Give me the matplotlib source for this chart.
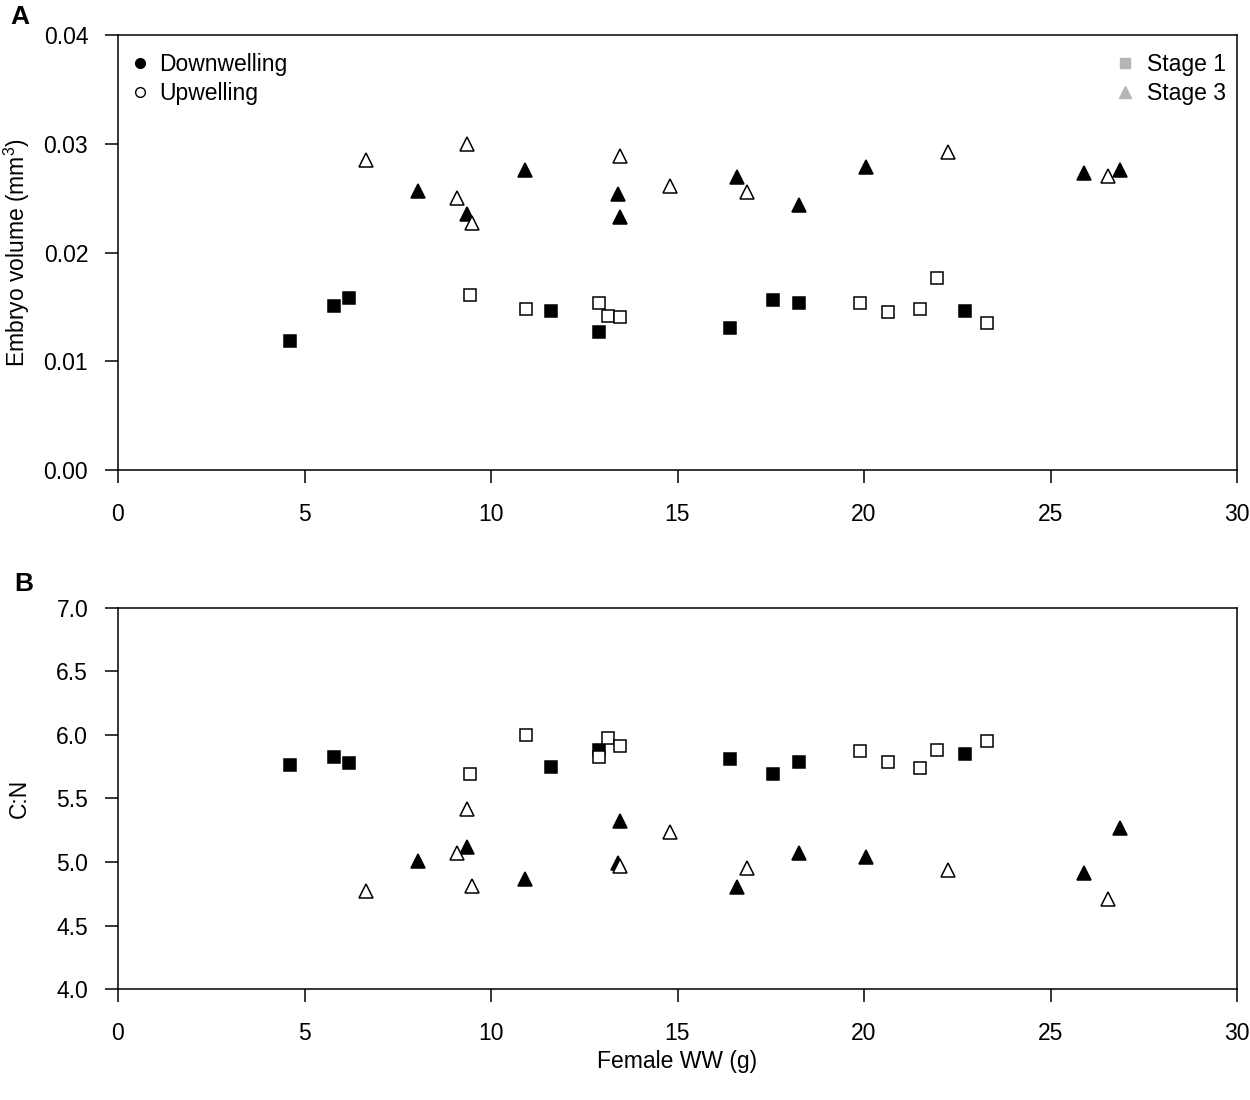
import matplotlib
matplotlib.use('Agg')
import matplotlib.pyplot as plt
from matplotlib.lines import Line2D

plt.rcParams['font.family'] = ['Liberation Sans', 'DejaVu Sans']
plt.rcParams['mathtext.fontset'] = 'custom'
plt.rcParams['mathtext.rm'] = 'Liberation Sans'

# Female wet weight (g), embryo volume (mm^3) and C:N per group.
# Downwelling = filled, Upwelling = open; Stage 1 = square, Stage 3 = triangle.
down_s1_ww = [4.6, 5.8, 6.2, 11.6, 12.9, 16.4, 17.55, 18.25, 22.7]
down_s1_vol = [0.0119, 0.0151, 0.0158, 0.0146, 0.0127, 0.0131, 0.0156, 0.0154, 0.0146]
down_s1_cn = [5.76, 5.83, 5.78, 5.75, 5.88, 5.81, 5.69, 5.79, 5.85]

up_s1_ww = [9.45, 10.95, 12.9, 13.15, 13.45, 19.9, 20.65, 21.5, 21.95, 23.3]
up_s1_vol = [0.0161, 0.0148, 0.0154, 0.0142, 0.0141, 0.0154, 0.0145, 0.0148, 0.0177, 0.0135]
up_s1_cn = [5.69, 6.00, 5.83, 5.98, 5.91, 5.87, 5.79, 5.74, 5.88, 5.95]

down_s3_ww = [8.05, 9.35, 10.9, 13.4, 13.45, 16.6, 18.25, 20.05, 25.9, 26.85]
down_s3_vol = [0.0257, 0.0235, 0.0276, 0.0254, 0.0233, 0.0269, 0.0244, 0.0279, 0.0273, 0.0276]
down_s3_cn = [5.01, 5.12, 4.87, 4.99, 5.32, 4.80, 5.07, 5.04, 4.91, 5.27]

up_s3_ww = [6.65, 9.1, 9.35, 9.5, 13.45, 14.8, 16.85, 22.25, 26.55]
up_s3_vol = [0.0285, 0.0250, 0.0300, 0.0227, 0.0289, 0.0261, 0.0256, 0.0292, 0.0270]
up_s3_cn = [4.77, 5.07, 5.42, 4.81, 4.97, 5.24, 4.95, 4.94, 4.71]

x_ticks = [0, 5, 10, 15, 20, 25, 30]
vol_ticks = [0.00, 0.01, 0.02, 0.03, 0.04]
cn_ticks = [4.0, 4.5, 5.0, 5.5, 6.0, 6.5, 7.0]

FS = 16.5
SQ = 8.5
TRI = 10.5
EW = 1.1

fig = plt.figure(figsize=(12.5, 11), dpi=100)
ax_a = fig.add_axes([0.0944, 0.5727, 0.8952, 0.3955])
ax_b = fig.add_axes([0.0944, 0.1009, 0.8952, 0.3464])


def draw_panel(ax, d1, u1, d3, u3):
    ax.plot(down_s1_ww, d1, 's', ms=SQ, mfc='black', mec='black', mew=EW, ls='none')
    ax.plot(up_s1_ww, u1, 's', ms=SQ, mfc='white', mec='black', mew=EW, ls='none')
    ax.plot(down_s3_ww, d3, '^', ms=TRI, mfc='black', mec='black', mew=EW, ls='none')
    ax.plot(up_s3_ww, u3, '^', ms=TRI, mfc='white', mec='black', mew=EW, ls='none')
    ax.set_xlim(0, 30)
    ax.set_xticks(x_ticks)
    ax.tick_params(direction='out', length=9.5, width=1.1, labelsize=FS)
    ax.tick_params(axis='x', pad=14.5)
    ax.tick_params(axis='y', pad=12)
    for s in ax.spines.values():
        s.set_linewidth(1.1)


draw_panel(ax_a, down_s1_vol, up_s1_vol, down_s3_vol, up_s3_vol)
ax_a.set_ylim(0, 0.04)
ax_a.set_yticks(vol_ticks)
ax_a.set_yticklabels([f'{v:.2f}' for v in vol_ticks])
ax_a.set_ylabel('Embryo volume (mm$^3$)', fontsize=FS, labelpad=8)

draw_panel(ax_b, down_s1_cn, up_s1_cn, down_s3_cn, up_s3_cn)
ax_b.set_ylim(4.0, 7.0)
ax_b.set_yticks(cn_ticks)
ax_b.set_yticklabels([f'{v:.1f}' for v in cn_ticks])
ax_b.set_ylabel('C:N', fontsize=FS, labelpad=18)
ax_b.set_xlabel('Female WW (g)', fontsize=FS, labelpad=3)

# legends
site_handles = [
    Line2D([], [], marker='o', ls='none', ms=7, mfc='black', mec='black', mew=1.0),
    Line2D([], [], marker='o', ls='none', ms=7, mfc='white', mec='black', mew=1.0),
]
leg1 = ax_a.legend(site_handles, ['Downwelling', 'Upwelling'], loc='upper left',
                   bbox_to_anchor=(0.003, 0.980), frameon=False, fontsize=FS,
                   handlelength=0.8, handletextpad=0.45, labelspacing=0.25,
                   borderaxespad=0)
ax_a.add_artist(leg1)
stage_handles = [
    Line2D([], [], marker='s', ls='none', ms=7, mfc='#b5b5b5', mec='#b5b5b5'),
    Line2D([], [], marker='^', ls='none', ms=8.5, mfc='#b5b5b5', mec='#b5b5b5'),
]
ax_a.legend(stage_handles, ['Stage 1', 'Stage 3'], loc='upper right',
            bbox_to_anchor=(0.998, 0.979), frameon=False, fontsize=FS,
            handlelength=0.8, handletextpad=0.55, labelspacing=0.25,
            borderaxespad=0)

fig.text(0.008, 0.985, 'A', fontsize=19, fontweight='bold', va='center', ha='left')
fig.text(0.011, 0.469, 'B', fontsize=19, fontweight='bold', va='center', ha='left')

fig.savefig('out.png', dpi=100)
